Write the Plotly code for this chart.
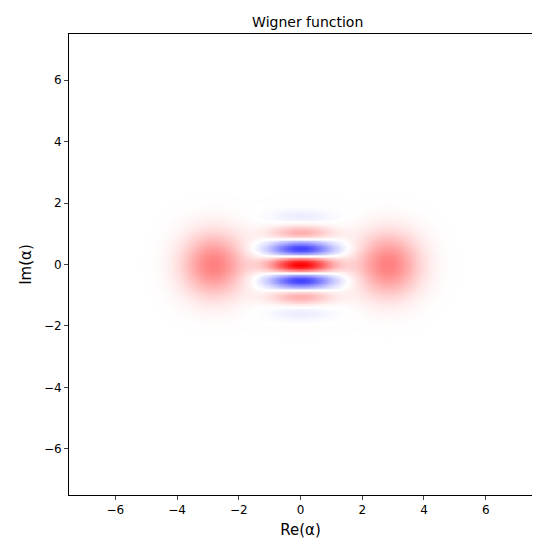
import numpy as np
import plotly.graph_objects as go

# cat state |alpha0> + |-alpha0>, plotted in qutip-style quadratures (g = sqrt(2))
alpha0 = 2.0
xvec = np.linspace(-7.5, 7.5, 301)
pvec = np.linspace(-7.5, 7.5, 301)
xticks = [-6, -4, -2, 0, 2, 4, 6]

X, P = np.meshgrid(xvec, pvec)
a = np.sqrt(2) * alpha0
W = (np.exp(-(X - a) ** 2 - P ** 2) + np.exp(-(X + a) ** 2 - P ** 2)
     + 2 * np.exp(-X ** 2 - P ** 2) * np.cos(2 * a * P)) / (np.pi * 2 * (1 + np.exp(-2 * alpha0 ** 2)))
wmax = np.abs(W).max()

fig = go.Figure(go.Heatmap(
    x=xvec, y=pvec, z=W, zmin=-wmax, zmax=wmax,
    colorscale=[[0, "rgb(0,0,255)"], [0.5, "rgb(255,255,255)"], [1, "rgb(255,0,0)"]],
    showscale=False, zsmooth="best"))
axis = dict(range=[-7.5, 7.5], tickvals=xticks, showgrid=False, zeroline=False,
            showline=True, mirror=True, linecolor="black", linewidth=1, automargin=False,
            ticks="outside", ticklen=4, tickfont=dict(size=12, color="black"))
fig.update_layout(
    width=540, height=553, paper_bgcolor="white", plot_bgcolor="white",
    margin=dict(l=61, r=16, t=26, b=66, autoexpand=False),
    font=dict(family="DejaVu Sans", color="black"),
    title=dict(text="Wigner function", x=0.555, xanchor="center", yref="container",
               y=0.975, yanchor="middle", font=dict(size=14)),
    xaxis=dict(axis, title=dict(text="Re(α)", font=dict(size=15), standoff=8)),
    yaxis=dict(axis, title=dict(text="Im(α)", font=dict(size=15), standoff=8)),
)
fig.write_html("out.html")
